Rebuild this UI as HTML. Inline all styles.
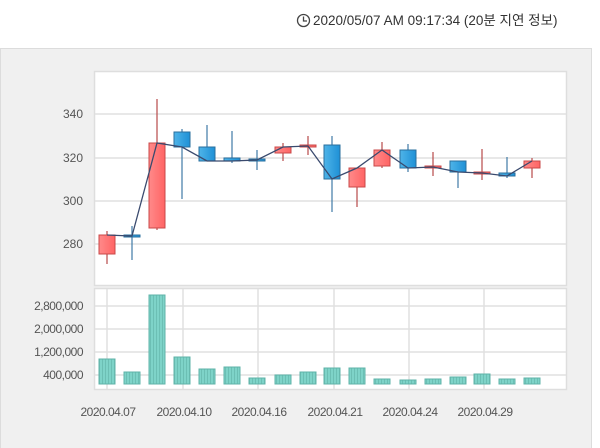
<!DOCTYPE html>
<html><head><meta charset="utf-8"><style>
body{margin:0;width:600px;height:448px;background:#fff;overflow:hidden;font-family:"Liberation Sans","Noto Sans CJK KR",sans-serif;}
</style></head><body>
<svg width="600" height="448" xmlns="http://www.w3.org/2000/svg" style="position:absolute;left:0;top:0">
<defs>
<pattern id="vp" width="3" height="10" patternUnits="userSpaceOnUse"><rect width="3" height="10" fill="#7ed3c8"/><rect width="1" height="10" fill="#6cbfb4"/></pattern>
<linearGradient id="rg" x1="0" x2="1"><stop offset="0" stop-color="#ff8a8a"/><stop offset="1" stop-color="#ff6464"/></linearGradient>
<linearGradient id="bg" x1="0" x2="1"><stop offset="0" stop-color="#4fb4e8"/><stop offset="1" stop-color="#1e90d6"/></linearGradient>
</defs>
<g font-size="13" fill="#333">
<circle cx="303.5" cy="20.5" r="6" fill="none" stroke="#444" stroke-width="1.3"/>
<path d="M303.5 16.5v4.5h3.5" fill="none" stroke="#444" stroke-width="1.3"/>
<text x="313" y="25" font-size="13.5">2020/05/07 AM 09:17:34 (20분 지연 정보)</text>
</g>
<rect x="0.5" y="48.5" width="591" height="400" fill="#f0f0f0" stroke="#dcdcdc"/>
<rect x="94.5" y="71.5" width="472" height="214" fill="#fff" stroke="#dedede" stroke-width="1.5"/>
<rect x="94.5" y="288.5" width="472" height="101" fill="#fff" stroke="#dedede" stroke-width="1.5"/>
<g stroke="#e0e0e0" stroke-width="1.5">
<line x1="95" x2="566" y1="114" y2="114"/><line x1="95" x2="566" y1="158" y2="158"/><line x1="95" x2="566" y1="201" y2="201"/><line x1="95" x2="566" y1="244" y2="244"/>
<line x1="95" x2="566" y1="306" y2="306"/><line x1="95" x2="566" y1="329" y2="329"/><line x1="95" x2="566" y1="352" y2="352"/><line x1="95" x2="566" y1="375" y2="375"/>
<line x1="107" x2="107" y1="289" y2="389"/><line x1="183" x2="183" y1="289" y2="389"/><line x1="258" x2="258" y1="289" y2="389"/><line x1="334" x2="334" y1="289" y2="389"/><line x1="409" x2="409" y1="289" y2="389"/><line x1="484" x2="484" y1="289" y2="389"/>
</g>
<g font-size="12" fill="#555" text-anchor="end">
<text x="83" y="118">340</text><text x="83" y="162">320</text><text x="83" y="205">300</text><text x="83" y="248">280</text>
<text x="83" y="310" letter-spacing="-0.5">2,800,000</text><text x="83" y="333" letter-spacing="-0.5">2,000,000</text><text x="83" y="356" letter-spacing="-0.5">1,200,000</text><text x="83" y="379" letter-spacing="-0.5">400,000</text>
</g>
<g font-size="12" fill="#555" text-anchor="middle" letter-spacing="-0.5">
<text x="108" y="416">2020.04.07</text><text x="184" y="416">2020.04.10</text><text x="259" y="416">2020.04.16</text><text x="335" y="416">2020.04.21</text><text x="410" y="416">2020.04.24</text><text x="485" y="416">2020.04.29</text>
</g>
<g id="c"></g>
<g id="v"></g>
<polyline id="ln" fill="none" stroke="#3a4a6e" stroke-width="1.3"/>
</svg>
<script>
var d=[[107,235,254,231,264,'r'],[132,235,237,226,260,'b'],[157,143,228,99,230,'r'],[182,132,147,129,199,'b'],[207,147,161,125,161,'b'],[232,158,161,131,163,'b'],[257,159,161,150,170,'b'],[283,147,153,143,161,'r'],[308,145,147,136,155,'r'],[332,145,179,136,212,'b'],[357,168,187,168,207,'r'],[382,150,166,142,168,'r'],[408,150,168,144,172,'b'],[433,166,168,152,176,'r'],[458,161,172,161,188,'b'],[482,172,174,149,180,'r'],[507,173,176,157,178,'b'],[532,161,168,158,178,'r']];
var cl=[235,236,143,147,161,161,160,147,146,179,168,150,168,167,172,173,176,161];
var vt=[359,372,295,357,369,367,378,375,372,368,368,379,380,379,377,374,379,378];
var ns='http://www.w3.org/2000/svg',g=document.getElementById('c'),v=document.getElementById('v'),s='';
function el(p,t,a){var e=document.createElementNS(ns,t);for(var k in a)e.setAttribute(k,a[k]);p.appendChild(e);}
d.forEach(function(c,i){var r=c[5]=='r';var st=r?'#c84848':'#2a6f9e';
el(g,'line',{x1:c[0],x2:c[0],y1:c[3],y2:c[4],stroke:r?'#b84a4a':'#3f7aa6','stroke-width':1.2});
el(g,'rect',{x:c[0]-8,y:c[1],width:16,height:Math.max(c[2]-c[1],2),fill:r?'url(#rg)':'url(#bg)',stroke:st,'stroke-width':1});
el(v,'rect',{x:c[0]-8,y:vt[i],width:16,height:384-vt[i],fill:'url(#vp)',stroke:'#5fb3a8','stroke-width':1});
s+=c[0]+','+cl[i]+' ';});
document.getElementById('ln').setAttribute('points',s);
</script>
</body></html>
